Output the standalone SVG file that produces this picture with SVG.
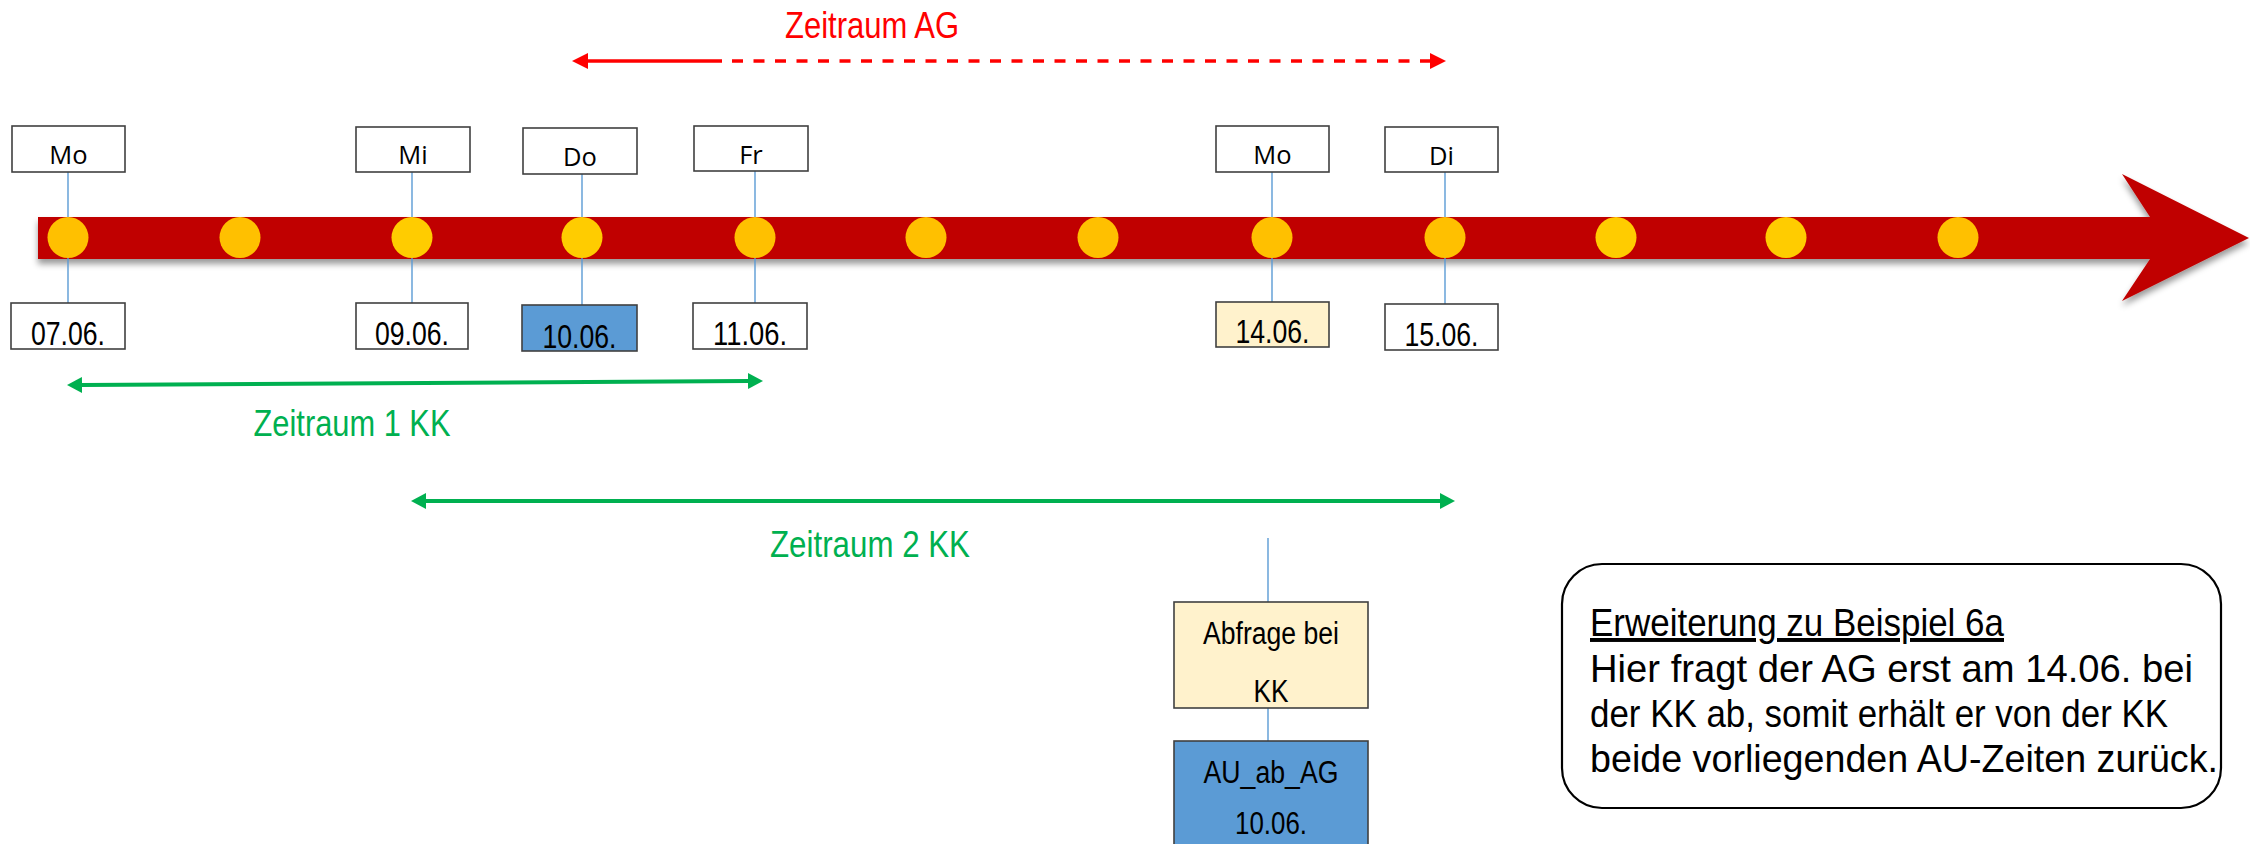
<svg xmlns="http://www.w3.org/2000/svg" width="2250" height="844" viewBox="0 0 2250 844">
<defs>
<style>
.box{fill:#fff;stroke:#404040;stroke-width:1.6}
.blue{fill:#5B9BD5}
.cream{fill:#FFF2CC}
.tick{stroke:#5B9BD5;stroke-width:1.4;fill:none}
.day{font-family:"Open Sans","Liberation Sans",sans-serif;font-size:25.5px;fill:#000;text-anchor:middle}
.date{font-family:"Liberation Sans",Arial,sans-serif;font-size:34px;fill:#000;text-anchor:middle}
.lbl{font-family:"Liberation Sans",Arial,sans-serif;font-size:31px;fill:#000;text-anchor:middle}
.rng{font-family:"Liberation Sans",Arial,sans-serif;font-size:37px;text-anchor:middle}
.note{font-family:"Liberation Sans",Arial,sans-serif;font-size:39.5px;fill:#000}
.d1{fill:#FFC000}
.d2{fill:#FFCC00}
</style>
<filter id="sh" x="-5%" y="-30%" width="110%" height="170%">
<feDropShadow dx="0" dy="5" stdDeviation="3" flood-color="#000" flood-opacity="0.4"/>
</filter>
<marker id="ar" markerUnits="userSpaceOnUse" markerWidth="16" markerHeight="16" viewBox="0 -8 16 16" refX="0" refY="0" orient="auto-start-reverse">
<path d="M0,-8 L16,0 L0,8 z" fill="#FF0000"/>
</marker>
<marker id="ag" markerUnits="userSpaceOnUse" markerWidth="15" markerHeight="16" viewBox="0 -8 15 16" refX="0" refY="0" orient="auto-start-reverse">
<path d="M0,-8 L15,0 L0,8 z" fill="#00B050"/>
</marker>
</defs>

<g id="timeline">
<polygon points="38,217 2150,217 2122,174 2249,238 2122,301 2150,259 38,259" fill="#C00000" filter="url(#sh)"/>
</g>

<g id="connectors">
<line class="tick" x1="68" y1="172" x2="68" y2="303"/>
<line class="tick" x1="412" y1="172" x2="412" y2="303"/>
<line class="tick" x1="582" y1="174" x2="582" y2="305"/>
<line class="tick" x1="755" y1="171" x2="755" y2="303"/>
<line class="tick" x1="1272" y1="172" x2="1272" y2="302"/>
<line class="tick" x1="1445" y1="172" x2="1445" y2="304"/>
<line class="tick" x1="1268" y1="538" x2="1268" y2="602"/>
<line class="tick" x1="1268" y1="708" x2="1268" y2="741"/>
<line x1="588" y1="61" x2="722" y2="61" stroke="#FF0000" stroke-width="3.3" marker-start="url(#ar)"/>
<line x1="722" y1="61" x2="1430" y2="61" stroke="#FF0000" stroke-width="3.3" stroke-dasharray="11 10.5" stroke-dashoffset="-10" marker-end="url(#ar)"/>
<line x1="82" y1="385" x2="748" y2="381" stroke="#00B050" stroke-width="4" marker-start="url(#ag)" marker-end="url(#ag)"/>
<line x1="426" y1="501" x2="1440" y2="501" stroke="#00B050" stroke-width="4" marker-start="url(#ag)" marker-end="url(#ag)"/>
</g>

<g id="dots">
<circle class="d1" cx="68" cy="237.5" r="20.5"/>
<circle class="d1" cx="240" cy="237.5" r="20.5"/>
<circle class="d2" cx="412" cy="237.5" r="20.5"/>
<circle class="d2" cx="582" cy="237.5" r="20.5"/>
<circle class="d1" cx="755" cy="237.5" r="20.5"/>
<circle class="d1" cx="926" cy="237.5" r="20.5"/>
<circle class="d1" cx="1098" cy="237.5" r="20.5"/>
<circle class="d1" cx="1272" cy="237.5" r="20.5"/>
<circle class="d1" cx="1445" cy="237.5" r="20.5"/>
<circle class="d2" cx="1616" cy="237.5" r="20.5"/>
<circle class="d2" cx="1786" cy="237.5" r="20.5"/>
<circle class="d1" cx="1958" cy="237.5" r="20.5"/>
</g>

<g id="day-mo1"><rect class="box" x="12" y="126" width="113" height="46"/><text class="day" x="68.5" y="164">Mo</text></g>
<g id="day-mi"><rect class="box" x="356" y="127" width="114" height="45"/><text class="day" x="413" y="164">Mi</text></g>
<g id="day-do"><rect class="box" x="523" y="128" width="114" height="46"/><text class="day" x="580" y="166">Do</text></g>
<g id="day-fr"><rect class="box" x="694" y="126" width="114" height="45"/><text class="day" x="751" y="164">Fr</text></g>
<g id="day-mo2"><rect class="box" x="1216" y="126" width="113" height="46"/><text class="day" x="1272.5" y="164">Mo</text></g>
<g id="day-di"><rect class="box" x="1385" y="127" width="113" height="45"/><text class="day" x="1441.5" y="165">Di</text></g>

<g id="date-0706"><rect class="box" x="11" y="303" width="114" height="46"/><text class="date" x="68" y="344.5" textLength="74" lengthAdjust="spacingAndGlyphs">07.06.</text></g>
<g id="date-0906"><rect class="box" x="356" y="303" width="112" height="46"/><text class="date" x="412" y="344.5" textLength="74" lengthAdjust="spacingAndGlyphs">09.06.</text></g>
<g id="date-1006"><rect class="box blue" x="522" y="305" width="115" height="46"/><text class="date" x="579.5" y="347.5" textLength="74" lengthAdjust="spacingAndGlyphs">10.06.</text></g>
<g id="date-1106"><rect class="box" x="693" y="303" width="114" height="46"/><text class="date" x="750" y="344.5" textLength="74" lengthAdjust="spacingAndGlyphs">11.06.</text></g>
<g id="date-1406"><rect class="box cream" x="1216" y="302" width="113" height="45"/><text class="date" x="1272.5" y="342.5" textLength="74" lengthAdjust="spacingAndGlyphs">14.06.</text></g>
<g id="date-1506"><rect class="box" x="1385" y="304" width="113" height="46"/><text class="date" x="1441.5" y="345.5" textLength="74" lengthAdjust="spacingAndGlyphs">15.06.</text></g>

<g id="label-ag"><text class="rng" x="872" y="38" fill="#FF0000" textLength="174" lengthAdjust="spacingAndGlyphs">Zeitraum AG</text></g>
<g id="label-kk1"><text class="rng" x="352" y="436" fill="#00B050" textLength="197" lengthAdjust="spacingAndGlyphs">Zeitraum 1 KK</text></g>
<g id="label-kk2"><text class="rng" x="870" y="557" fill="#00B050" textLength="200" lengthAdjust="spacingAndGlyphs">Zeitraum 2 KK</text></g>

<g id="abfrage"><rect class="box cream" x="1174" y="602" width="194" height="106"/>
<text class="lbl" x="1271" y="644" textLength="136" lengthAdjust="spacingAndGlyphs">Abfrage bei</text>
<text class="lbl" x="1271" y="702" textLength="35" lengthAdjust="spacingAndGlyphs">KK</text></g>

<g id="au-ab-ag"><rect class="box blue" x="1174" y="741" width="194" height="110"/>
<text class="lbl" x="1271" y="783" textLength="135" lengthAdjust="spacingAndGlyphs">AU_ab_AG</text>
<text class="lbl" x="1271" y="834" textLength="72" lengthAdjust="spacingAndGlyphs">10.06.</text></g>

<g id="note"><rect x="1562" y="564" width="659" height="244" rx="40" ry="40" fill="#fff" stroke="#000" stroke-width="2.2"/>
<text class="note" x="1590" y="636" text-decoration="underline" textLength="414" lengthAdjust="spacingAndGlyphs">Erweiterung zu Beispiel 6a</text>
<text class="note" x="1590" y="682" textLength="603" lengthAdjust="spacingAndGlyphs">Hier fragt der AG erst am 14.06. bei</text>
<text class="note" x="1590" y="727" textLength="578" lengthAdjust="spacingAndGlyphs">der KK ab, somit erhält er von der KK</text>
<text class="note" x="1590" y="772" textLength="628" lengthAdjust="spacingAndGlyphs">beide vorliegenden AU-Zeiten zurück.</text></g>
</svg>
